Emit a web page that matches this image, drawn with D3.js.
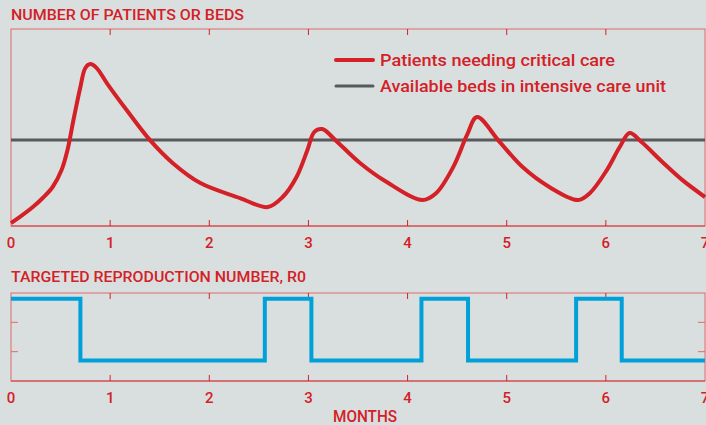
<!DOCTYPE html>
<html>
<head>
<meta charset="utf-8">
<script src="https://cdn.jsdelivr.net/npm/d3@7"></script>
<style>
  body { margin: 0; background: #d9dfdf; }
  svg { display: block; }
  text { font-family: Roboto, "Liberation Sans", sans-serif; fill: #d42027; }
</style>
</head>
<body>
<svg id="chart" width="706" height="425"></svg>
<script>
// months
var months = [0, 1, 2, 3, 4, 5, 6, 7];

// patients needing critical care (arbitrary units)
var patientMonths = [0, 0.09, 0.22, 0.32, 0.42, 0.51, 0.57, 0.63, 0.70, 0.75, 0.80, 0.86, 0.97, 1.17, 1.40, 1.63, 1.91, 2.31, 2.59,
    2.74, 2.88, 2.99, 3.06, 3.14, 3.27, 3.52, 3.79, 4.15,
    4.29, 4.46, 4.60, 4.70, 4.93, 5.16, 5.43, 5.72,
    5.84, 6.01, 6.14, 6.24, 6.36, 6.57, 6.77, 7.0];
var patients = [1.5, 4.6, 9.6, 14.2, 19.8, 28.4, 38.6, 53.8, 70.6, 80.2, 82.2, 80.4, 72.3, 58.6, 43.7, 32.0, 21.8, 14.2, 9.6,
    14.7, 24.9, 38.6, 47.8, 49.2, 43.7, 32.0, 22.3, 13.2,
    16.8, 29.9, 46.2, 55.3, 42.6, 29.9, 19.8, 13.2,
    16.8, 28.4, 40.1, 47.2, 42.6, 32.5, 23.4, 14.7];

// available ICU beds
var beds = 43.7;

// targeted R0, steps change at these months
var r0Months = [0, 0.70, 2.56, 3.03, 4.14, 4.61, 5.70, 6.16, 7];
var r0Values = [2.8, 0.7, 2.8, 0.7, 2.8, 0.7, 2.8, 0.7, 0.7];
var r0Ticks = [1, 2];

var legendLabels = ["Patients needing critical care", "Available beds in intensive care unit"];

var red = "#d42027", frameRed = "#e06a6a", blue = "#00a0d8", grey = "#58595b";

var svg = d3.select("#chart");

var x = d3.scaleLinear().domain([0, 7]).range([11, 705]);
var yTop = d3.scaleLinear().domain([0, 100]).range([226, 29]);
var yBot = d3.scaleLinear().domain([0, 3]).range([381, 293]);

function panel(top, bottom) {
    var g = svg.append("g");
    g.append("rect")
        .attr("x", x(0)).attr("y", top)
        .attr("width", x(7) - x(0)).attr("height", bottom - top)
        .attr("fill", "none").attr("stroke", frameRed).attr("stroke-width", 1);
    // bottom axis line slightly stronger
    g.append("line")
        .attr("x1", x(0)).attr("x2", x(7)).attr("y1", bottom).attr("y2", bottom)
        .attr("stroke", red).attr("stroke-opacity", 0.8);
    var inner = months.slice(1, 7);
    g.selectAll(".tb").data(inner).enter().append("line")
        .attr("x1", x).attr("x2", x).attr("y1", bottom).attr("y2", bottom - 6)
        .attr("stroke", red).attr("stroke-width", 1);
    g.selectAll(".tt").data(inner).enter().append("line")
        .attr("x1", x).attr("x2", x).attr("y1", top).attr("y2", top + 6)
        .attr("stroke", red).attr("stroke-width", 1);
    g.selectAll(".lab").data(months).enter().append("text")
        .attr("x", x).attr("y", bottom + 22)
        .attr("text-anchor", "middle")
        .attr("font-size", 15).attr("font-weight", 500)
        .text(function(d) { return d; });
    return g;
}

// ---- top panel ----
svg.append("text").attr("x", 11).attr("y", 20)
    .attr("font-size", 15).attr("font-weight", 500)
    .attr("textLength", 233).attr("lengthAdjust", "spacingAndGlyphs")
    .text("NUMBER OF PATIENTS OR BEDS");

panel(29, 226);

svg.append("line")
    .attr("x1", x(0)).attr("x2", x(7))
    .attr("y1", yTop(beds)).attr("y2", yTop(beds))
    .attr("stroke", grey).attr("stroke-width", 3);

var line = d3.line()
    .x(function(d) { return x(d[0]); })
    .y(function(d) { return yTop(d[1]); })
    .curve(d3.curveCatmullRom.alpha(0.5));

svg.append("path")
    .datum(d3.zip(patientMonths, patients))
    .attr("d", line)
    .attr("fill", "none").attr("stroke", red)
    .attr("stroke-width", 4).attr("stroke-linejoin", "round");

// legend
var leg = svg.append("g");
[red, grey].forEach(function(c, i) {
    leg.append("line")
        .attr("x1", 336).attr("x2", 373)
        .attr("y1", 60 + i * 26).attr("y2", 60 + i * 26)
        .attr("stroke", c).attr("stroke-width", i ? 3 : 4)
        .attr("stroke-linecap", "round");
    leg.append("text")
        .attr("x", 380).attr("y", 60 + i * 26).attr("dy", "0.35em")
        .attr("font-size", 17).attr("font-weight", 500)
        .attr("textLength", i ? 286 : 235).attr("lengthAdjust", "spacingAndGlyphs")
        .text(legendLabels[i]);
});

// ---- bottom panel ----
svg.append("text").attr("x", 11).attr("y", 282)
    .attr("font-size", 15).attr("font-weight", 500)
    .attr("textLength", 295).attr("lengthAdjust", "spacingAndGlyphs")
    .text("TARGETED REPRODUCTION NUMBER, R0");

panel(293, 381);

svg.selectAll(".yl").data(r0Ticks).enter().append("line")
    .attr("x1", x(0)).attr("x2", x(0) + 7)
    .attr("y1", yBot).attr("y2", yBot)
    .attr("stroke", frameRed);
svg.selectAll(".yr").data(r0Ticks).enter().append("line")
    .attr("x1", x(7)).attr("x2", x(7) - 7)
    .attr("y1", yBot).attr("y2", yBot)
    .attr("stroke", frameRed);

var step = d3.line()
    .x(function(d) { return x(d[0]); })
    .y(function(d) { return yBot(d[1]); })
    .curve(d3.curveStepAfter);

svg.append("path")
    .datum(d3.zip(r0Months, r0Values))
    .attr("d", step)
    .attr("fill", "none").attr("stroke", blue)
    .attr("stroke-width", 4);

svg.append("text").attr("x", 365).attr("y", 422)
    .attr("text-anchor", "middle")
    .attr("font-size", 16).attr("font-weight", 500)
    .attr("textLength", 64).attr("lengthAdjust", "spacingAndGlyphs")
    .text("MONTHS");
</script>
</body>
</html>
